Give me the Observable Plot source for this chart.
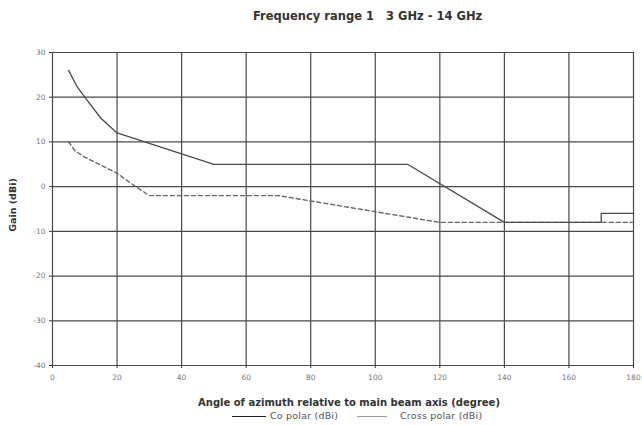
<!DOCTYPE html>
<html>
<head>
<meta charset="utf-8">
<script src="https://cdn.jsdelivr.net/npm/d3@7"></script>
<script src="https://cdn.jsdelivr.net/npm/@observablehq/plot@0.6"></script>
<style>
  html, body { margin: 0; padding: 0; background: #fff; }
  body { width: 642px; height: 425px; position: relative; overflow: hidden; font-family: "DejaVu Sans", Verdana, sans-serif; }
  #chart { position: absolute; left: 0; top: 0; }
  .title { position: absolute; top: 9px; left: 253px; font-size: 11.5px; font-weight: bold; color: #333; white-space: pre; }
  .xlab { position: absolute; top: 397px; left: 0; width: 698px; text-align: center; font-size: 10px; font-weight: bold; color: #333; }
  .ylab { position: absolute; left: 12px; top: 205px; transform: translate(-50%, -50%) rotate(-90deg); font-size: 9.5px; font-weight: bold; color: #333; white-space: nowrap; }
  .leg { position: absolute; top: 410px; font-size: 9.5px; color: #555; white-space: nowrap; letter-spacing: 0.2px; }
  .sw { position: absolute; top: 416px; height: 0; }
</style>
</head>
<body>
<div id="chart"></div>
<div class="title">Frequency range 1   3 GHz - 14 GHz</div>
<div class="xlab">Angle of azimuth relative to main beam axis (degree)</div>
<div class="ylab">Gain (dBi)</div>
<span class="sw" style="left:232px; width:34px; border-top:1.6px solid #222"></span>
<span class="leg" style="left:270px">Co polar (dBi)</span>
<span class="sw" style="left:357px; width:30px; border-top:1px solid #999"></span>
<span class="leg" style="left:400px">Cross polar (dBi)</span>
<script>
// Data
const xTicks = [0, 20, 40, 60, 80, 100, 120, 140, 160, 180];
const yTicks = [-40, -30, -20, -10, 0, 10, 20, 30];

const coAngle = [5, 7.5, 10, 15, 20, 50, 110, 140, 170, 170, 180];
const coGain  = [26, 22.5, 20, 15.3, 12, 5, 5, -8, -8, -6, -6];

const crossAngle = [5, 7, 10, 15, 20, 25, 30, 70, 120, 180];
const crossGain  = [10, 8, 6.6, 4.8, 3, 0.4, -2, -2, -8, -8];

const co = coAngle.map((a, i) => ({angle: a, gain: coGain[i]}));
const cross = crossAngle.map((a, i) => ({angle: a, gain: crossGain[i]}));

const fmt = d => String(d);

const chart = Plot.plot({
  width: 642,
  height: 390,
  marginLeft: 52,
  marginRight: 9,
  marginTop: 52,
  marginBottom: 25,
  style: { fontFamily: "DejaVu Sans, Verdana, sans-serif", background: "transparent" },
  x: { domain: [0, 180] },
  y: { domain: [-40, 30] },
  marks: [
    Plot.ruleX(xTicks, { stroke: "#4a4a4a", strokeWidth: 1.2 }),
    Plot.ruleY(yTicks, { stroke: "#4a4a4a", strokeWidth: 1.2 }),
    Plot.axisX(xTicks, { tickSize: 3, fontSize: 7.5, color: "#777", tickPadding: 6, label: null, stroke: "#333", tickFormat: fmt }),
    Plot.axisY(yTicks, { tickSize: 3, fontSize: 7.5, color: "#777", tickPadding: 4, label: null, stroke: "#333", tickFormat: fmt }),
    Plot.line(cross, { x: "angle", y: "gain", stroke: "#666", strokeWidth: 1.4, strokeDasharray: "4,3" }),
    Plot.line(co, { x: "angle", y: "gain", stroke: "#4a4a4a", strokeWidth: 1.3 })
  ]
});
document.getElementById("chart").appendChild(chart);
</script>
</body>
</html>
